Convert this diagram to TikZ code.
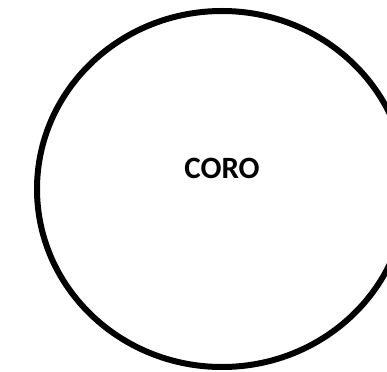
\documentclass[tikz,border=0pt]{standalone}
\usepackage{fontspec}
\setmainfont{Carlito}
\begin{document}
\begin{tikzpicture}[x=1pt,y=1pt,
  ring/.style={draw=black,line width=6pt,fill=white},
  lbl/.style={font=\fontsize{31}{36}\selectfont\bfseries,text=black}]
\useasboundingbox (0,0) rectangle (387,-371);
\clip (0,0) rectangle (387,-371);
\fill[white] (0,0) rectangle (387,-371);
\draw[ring] (222,-189) ellipse [x radius=185, y radius=178];
\node[lbl] (coro) at (222,-168) {CORO};
\end{tikzpicture}
\end{document}
